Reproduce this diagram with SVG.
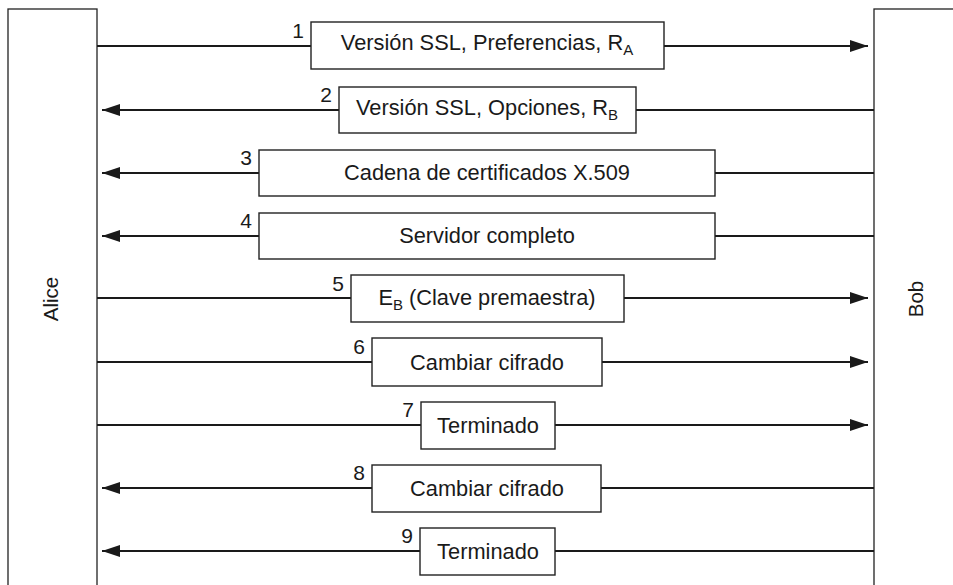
<svg xmlns="http://www.w3.org/2000/svg" width="953" height="585" viewBox="0 0 953 585">
<style>
.party{fill:#fff;stroke:#222;stroke-width:1.3}
.msg{fill:#fff;stroke:#222;stroke-width:1.4}
.t{font-family:"Liberation Sans",Arial,sans-serif;font-size:21.8px;fill:#1a1a1a;text-anchor:middle}
.n{font-family:"Liberation Sans",Arial,sans-serif;font-size:21px;fill:#1a1a1a;text-anchor:end}
.p{font-family:"Liberation Sans",Arial,sans-serif;font-size:20.5px;fill:#1a1a1a;text-anchor:middle}
.ln{stroke:#1a1a1a;stroke-width:2.2;fill:none}
</style>
<defs>
<marker id="ah" markerUnits="userSpaceOnUse" markerWidth="20" markerHeight="14" refX="18" refY="6" orient="auto">
<path d="M0,0 L18,6 L0,12 Z" fill="#1a1a1a"/>
</marker>
</defs>
<g id="alice">
<rect class="party" x="8" y="9" width="89" height="590"/>
<text class="p" transform="translate(58,299) rotate(-90)">Alice</text>
</g>
<g id="bob">
<rect class="party" x="874" y="9" width="90" height="590"/>
<text class="p" transform="translate(923,299) rotate(-90)">Bob</text>
</g>
<g id="connectors">
<line class="ln" x1="97" y1="46" x2="311" y2="46"/>
<line class="ln" x1="664" y1="46" x2="868" y2="46" marker-end="url(#ah)"/>
<line class="ln" x1="874" y1="110" x2="636" y2="110"/>
<line class="ln" x1="339" y1="110" x2="102" y2="110" marker-end="url(#ah)"/>
<line class="ln" x1="874" y1="173" x2="715" y2="173"/>
<line class="ln" x1="259" y1="173" x2="102" y2="173" marker-end="url(#ah)"/>
<line class="ln" x1="874" y1="236" x2="715" y2="236"/>
<line class="ln" x1="259" y1="236" x2="102" y2="236" marker-end="url(#ah)"/>
<line class="ln" x1="97" y1="298" x2="351" y2="298"/>
<line class="ln" x1="624" y1="298" x2="868" y2="298" marker-end="url(#ah)"/>
<line class="ln" x1="97" y1="362" x2="372" y2="362"/>
<line class="ln" x1="602" y1="362" x2="868" y2="362" marker-end="url(#ah)"/>
<line class="ln" x1="97" y1="425" x2="421" y2="425"/>
<line class="ln" x1="555" y1="425" x2="868" y2="425" marker-end="url(#ah)"/>
<line class="ln" x1="874" y1="488" x2="601" y2="488"/>
<line class="ln" x1="372" y1="488" x2="102" y2="488" marker-end="url(#ah)"/>
<line class="ln" x1="874" y1="551" x2="555" y2="551"/>
<line class="ln" x1="420" y1="551" x2="102" y2="551" marker-end="url(#ah)"/>
</g>
<g id="m1">
<rect class="msg" x="311" y="22" width="353" height="47"/>
<text class="n" x="304" y="38">1</text>
<text class="t" x="487" y="50">Versión SSL, Preferencias, R<tspan font-size="15" dy="5">A</tspan></text>
</g>
<g id="m2">
<rect class="msg" x="339" y="87" width="297" height="46"/>
<text class="n" x="332" y="102">2</text>
<text class="t" x="487" y="115">Versión SSL, Opciones, R<tspan font-size="15" dy="5">B</tspan></text>
</g>
<g id="m3">
<rect class="msg" x="259" y="150" width="456" height="46"/>
<text class="n" x="252" y="165">3</text>
<text class="t" x="487" y="180">Cadena de certificados X.509</text>
</g>
<g id="m4">
<rect class="msg" x="259" y="213" width="456" height="46"/>
<text class="n" x="252" y="228">4</text>
<text class="t" x="487" y="243">Servidor completo</text>
</g>
<g id="m5">
<rect class="msg" x="351" y="275" width="273" height="47"/>
<text class="n" x="344" y="291">5</text>
<text class="t" x="487" y="305">E<tspan font-size="15" dy="5">B</tspan><tspan dy="-5"> (Clave premaestra)</tspan></text>
</g>
<g id="m6">
<rect class="msg" x="372" y="338" width="230" height="48"/>
<text class="n" x="365" y="354">6</text>
<text class="t" x="487" y="370">Cambiar cifrado</text>
</g>
<g id="m7">
<rect class="msg" x="421" y="402" width="134" height="47"/>
<text class="n" x="414" y="417">7</text>
<text class="t" x="488" y="433">Terminado</text>
</g>
<g id="m8">
<rect class="msg" x="372" y="465" width="229" height="47"/>
<text class="n" x="365" y="480">8</text>
<text class="t" x="487" y="496">Cambiar cifrado</text>
</g>
<g id="m9">
<rect class="msg" x="420" y="528" width="135" height="47"/>
<text class="n" x="413" y="543">9</text>
<text class="t" x="488" y="559">Terminado</text>
</g>
</svg>
